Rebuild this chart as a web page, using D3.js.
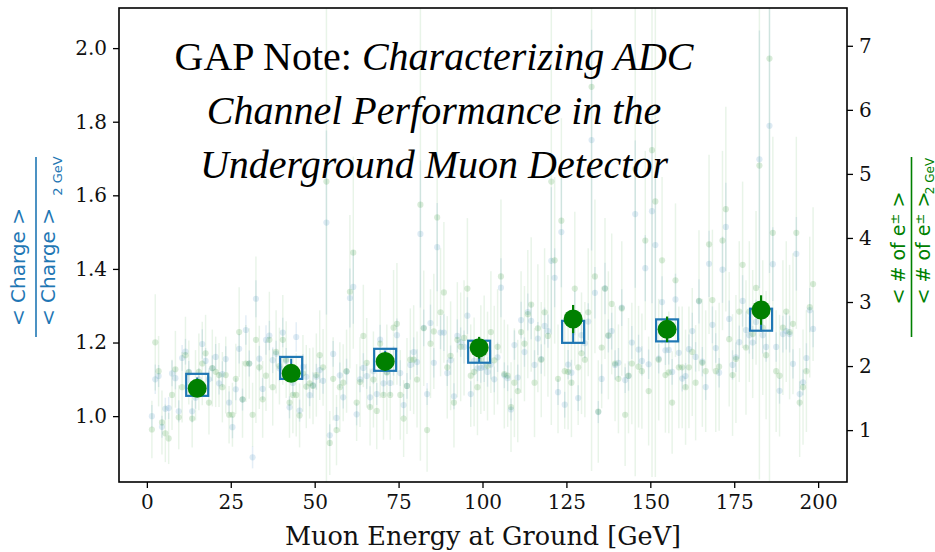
<!DOCTYPE html>
<html><head><meta charset="utf-8">
<script src="https://cdn.jsdelivr.net/npm/d3@7/dist/d3.min.js"></script>
<style>body{margin:0;background:#fff}svg{display:block}</style>
</head><body>
<svg id="chart" width="935" height="552"></svg>
<script>
// ---------------- data ----------------
const energies = [
1.5,2.5,3.5,4.5,5.5,6.5,7.5,8.5,9.5,10.5,
11.5,12.5,13.5,14.5,15.5,16.5,17.5,18.5,19.5,20.5,
21.5,22.5,23.5,24.5,25.5,26.5,27.5,28.5,29.5,30.5,
31.5,32.5,33.5,34.5,35.5,36.5,37.5,38.5,39.5,40.5,
41.5,42.5,43.5,44.5,45.5,46.5,47.5,48.5,49.5,50.5,
51.5,52.5,53.5,54.5,55.5,56.5,57.5,58.5,59.5,60.5,
61.5,62.5,63.5,64.5,65.5,66.5,67.5,68.5,69.5,70.5,
71.5,72.5,73.5,74.5,75.5,76.5,77.5,78.5,79.5,80.5,
81.5,82.5,83.5,84.5,85.5,86.5,87.5,88.5,89.5,90.5,
91.5,92.5,93.5,94.5,95.5,96.5,97.5,98.5,99.5,100.5,
101.5,102.5,103.5,104.5,105.5,106.5,107.5,108.5,109.5,110.5,
111.5,112.5,113.5,114.5,115.5,116.5,117.5,118.5,119.5,120.5,
121.5,122.5,123.5,124.5,125.5,126.5,127.5,128.5,129.5,130.5,
131.5,132.5,133.5,134.5,135.5,136.5,137.5,138.5,139.5,140.5,
141.5,142.5,143.5,144.5,145.5,146.5,147.5,148.5,149.5,150.5,
151.5,152.5,153.5,154.5,155.5,156.5,157.5,158.5,159.5,160.5,
161.5,162.5,163.5,164.5,165.5,166.5,167.5,168.5,169.5,170.5,
171.5,172.5,173.5,174.5,175.5,176.5,177.5,178.5,179.5,180.5,
181.5,182.5,183.5,184.5,185.5,186.5,187.5,188.5,189.5,190.5,
191.5,192.5,193.5,194.5,195.5,196.5,197.5,198.5];

const chargeRatio = [
1.00,1.10,1.109,0.971,1.02,1.022,1.116,1.103,1.013,1.158,
1.175,1.12,1.013,1.05,1.10,1.196,1.15,1.10,1.13,1.161,
1.089,1.114,1.155,1.037,0.970,1.073,1.183,1.045,1.234,1.143,
0.888,1.319,1.156,1.074,1.207,1.219,1.152,1.17,1.13,1.227,
1.15,1.024,1.09,1.215,1.015,1.134,1.107,1.057,1.084,1.107,
1.125,1.096,1.526,0.948,1.169,0.995,1.111,1.051,1.121,1.321,
1.351,1.005,1.10,1.131,1.109,1.051,1.122,1.06,1.208,1.089,
1.12,1.09,1.15,1.22,1.117,1.03,1.082,1.139,1.174,1.147,
1.495,1.24,1.06,1.253,1.145,1.459,1.227,1.227,1.117,1.152,
1.054,1.218,1.201,1.188,1.273,1.06,1.15,1.13,1.131,1.133,
1.12,1.14,1.10,1.16,1.349,1.111,1.103,1.018,1.193,1.105,
1.261,1.174,1.283,1.259,1.139,1.211,1.155,1.245,1.231,1.422,
1.376,1.065,1.50,1.031,1.14,1.118,1.28,1.049,1.22,1.198,
1.257,1.75,1.335,1.011,1.101,1.347,1.218,1.231,1.139,1.145,
1.295,1.098,1.109,1.20,1.549,1.181,1.15,1.402,1.141,1.557,
1.465,1.156,1.31,1.179,1.18,1.12,1.317,1.172,1.102,1.109,
1.182,1.231,1.161,1.312,1.148,1.079,1.414,1.248,1.185,1.118,
1.398,1.514,1.264,1.139,1.16,1.201,1.313,1.234,1.22,1.2,
1.256,1.698,1.22,1.188,1.789,1.413,1.188,1.069,1.223,1.231,
1.223,1.142,1.441,1.06,1.092,1.158,1.288,1.237];

const chargeErr = [
0.03,0.04,0.03,0.03,0.03,0.03,0.035,0.03,0.03,0.035,
0.035,0.03,0.03,0.03,0.03,0.04,0.035,0.03,0.035,0.035,
0.03,0.035,0.035,0.03,0.03,0.03,0.04,0.03,0.04,0.035,
0.03,0.05,0.035,0.03,0.04,0.04,0.035,0.035,0.035,0.04,
0.035,0.03,0.035,0.04,0.03,0.035,0.035,0.03,0.035,0.035,
0.035,0.035,0.25,0.03,0.035,0.03,0.035,0.03,0.035,0.08,
0.1,0.03,0.035,0.04,0.035,0.03,0.035,0.03,0.04,0.035,
0.035,0.035,0.04,0.045,0.035,0.03,0.035,0.04,0.04,0.035,
0.2,0.05,0.03,0.05,0.04,0.12,0.045,0.05,0.035,0.04,
0.035,0.045,0.04,0.045,0.05,0.035,0.04,0.035,0.04,0.04,
0.04,0.04,0.035,0.04,0.08,0.035,0.035,0.03,0.04,0.035,
0.05,0.04,0.05,0.05,0.04,0.045,0.04,0.05,0.045,0.2,
0.08,0.035,0.15,0.035,0.04,0.035,0.06,0.035,0.045,0.04,
0.05,0.3,0.07,0.03,0.04,0.07,0.045,0.05,0.04,0.04,
0.05,0.035,0.04,0.045,0.2,0.04,0.04,0.09,0.04,0.25,
0.2,0.04,0.07,0.04,0.04,0.035,0.07,0.04,0.035,0.035,
0.04,0.05,0.04,0.06,0.04,0.035,0.09,0.05,0.04,0.04,
0.09,0.12,0.05,0.04,0.04,0.045,0.07,0.05,0.05,0.045,
0.06,0.35,0.05,0.04,0.4,0.1,0.04,0.035,0.05,0.05,
0.05,0.04,0.1,0.035,0.035,0.04,0.06,0.05];

const electronRatio = [
1.01,2.37,1.92,1.12,0.95,0.87,1.55,1.95,1.20,1.67,
2.17,1.90,1.18,1.70,1.91,2.04,2.20,1.43,1.97,1.91,
1.86,1.67,1.86,1.24,1.24,1.80,2.53,1.48,2.04,2.04,
1.24,2.41,1.98,1.48,1.85,2.41,1.67,2.22,2.00,2.41,
2.10,1.43,1.55,1.55,1.23,1.886,1.68,1.73,1.69,1.86,
2.17,1.98,4.88,0.80,1.80,1.00,1.67,1.74,1.92,3.16,
3.77,1.43,1.75,2.47,2.05,1.36,1.79,1.30,2.35,1.55,
1.90,1.55,2.60,2.66,1.55,1.18,1.69,2.10,2.10,1.79,
4.52,2.59,1.00,2.35,2.54,4.32,2.84,3.15,1.98,2.16,
1.43,2.41,2.30,2.44,3.21,1.85,1.91,1.67,2.10,2.20,
2.00,2.53,2.09,2.30,3.40,1.875,1.85,1.36,1.74,1.61,
2.53,2.35,2.81,2.96,1.74,2.59,2.10,2.84,2.47,4.88,
3.65,1.80,4.27,1.92,1.91,1.74,3.21,1.98,2.20,2.10,
2.84,6.36,3.40,1.29,2.29,3.21,2.48,2.97,2.04,1.80,
2.90,1.24,1.85,2.04,5.08,1.99,1.92,3.96,1.61,5.37,
4.57,2.10,3.65,1.86,1.90,1.43,3.34,1.98,1.98,1.67,
1.98,2.22,1.74,3.02,2.05,1.92,3.90,3.03,1.92,1.99,
3.96,4.45,2.42,1.86,2.11,2.85,3.58,2.29,2.85,2.50,
3.22,5.13,2.60,2.17,6.80,4.08,1.92,1.85,2.60,2.85,
2.53,2.66,4.08,1.43,1.67,1.92,2.92,3.28];

const electronErr = [
0.45,0.75,0.55,0.5,0.45,0.4,0.55,0.6,0.5,0.55,
0.6,0.5,0.45,0.55,0.6,0.65,0.6,0.5,0.6,0.55,
0.5,0.55,0.6,0.45,0.5,0.55,0.7,0.6,0.6,0.55,
0.5,1.3,0.65,0.6,0.55,0.75,0.6,0.65,0.6,0.7,
0.6,0.55,0.6,0.65,0.5,0.6,0.65,0.55,0.6,0.65,
0.7,0.6,5.5,0.5,0.65,0.55,0.7,0.6,0.65,1.2,
1.5,0.6,0.7,0.8,0.7,0.6,0.75,0.6,0.85,0.7,
0.75,0.7,0.9,0.95,0.7,0.6,0.75,0.8,0.85,0.75,
4.0,0.9,0.65,0.85,0.9,1.7,1.0,1.1,0.8,0.85,
0.7,0.9,0.85,0.9,1.1,0.8,0.85,0.75,0.85,0.9,
0.85,0.95,0.85,0.9,1.2,0.85,0.8,0.7,0.85,0.8,
0.95,0.9,1.0,1.05,0.85,1.0,0.9,1.0,0.95,3.8,
1.3,0.85,1.6,0.9,0.9,0.85,1.2,0.9,0.95,0.9,
1.0,6.0,1.2,0.8,0.95,1.1,1.0,1.1,0.9,0.85,
1.05,0.8,0.9,0.95,4.8,0.95,0.9,1.4,0.85,5.1,
4.3,0.95,1.3,0.9,0.95,0.8,1.2,0.95,0.95,0.9,
0.95,1.0,0.9,1.1,1.0,0.95,1.4,1.1,0.95,1.0,
1.4,1.6,1.05,0.95,1.0,1.1,1.3,1.05,1.1,1.0,
1.2,4.9,1.05,1.0,6.6,1.5,0.95,0.95,1.05,1.1,
1.05,1.1,1.5,0.85,0.9,0.95,1.1,1.2];

const binCenters = [15, 43, 71, 99, 127, 155, 183];
const binCharge = [1.085, 1.131, 1.153, 1.175, 1.229, 1.233, 1.262];
const binChargeErr = [0.02, 0.025, 0.025, 0.028, 0.03, 0.03, 0.032];
const binElectron = [1.652, 1.886, 2.073, 2.286, 2.734, 2.573, 2.875];
const binElectronErr = [0.1, 0.12, 0.14, 0.17, 0.22, 0.2, 0.23];

const xTicks = [0, 25, 50, 75, 100, 125, 150, 175, 200];
const leftTicks = [1.0, 1.2, 1.4, 1.6, 1.8, 2.0];
const rightTicks = [1, 2, 3, 4, 5, 6, 7];

const titleLines = [
  [{t: "GAP Note: ", it: false}, {t: "Characterizing ADC", it: true}],
  [{t: "Channel Performance in the", it: true}],
  [{t: "Underground Muon Detector", it: true}]
];
const xLabel = "Muon Energy at Ground [GeV]";

// ---------------- chart ----------------
const BLUE = "#1f77b4", GREEN = "#008000";
const svg = d3.select("#chart");
const L = 119, R = 847, T = 8, B = 482;

const x = d3.scaleLinear().domain([-8.3, 208.6]).range([L, R]);
const yL = d3.scaleLinear().domain([0.821, 2.109]).range([B, T]);
const yR = d3.scaleLinear().domain([0.19, 7.59]).range([B, T]);

svg.append("defs").append("clipPath").attr("id", "clip")
  .append("rect").attr("x", L).attr("y", T).attr("width", R - L).attr("height", B - T);

const plot = svg.append("g").attr("clip-path", "url(#clip)");

const pts = energies.map((e, i) => ({e, c: chargeRatio[i], ce: chargeErr[i], n: electronRatio[i], ne: electronErr[i]}));

// blue small errorbars + points (left axis)
plot.append("g").selectAll("line").data(pts).join("line")
  .attr("x1", d => x(d.e)).attr("x2", d => x(d.e))
  .attr("y1", d => yL(d.c - d.ce)).attr("y2", d => yL(d.c + d.ce))
  .attr("stroke", BLUE).attr("stroke-opacity", 0.12).attr("stroke-width", 1.5);
plot.append("g").selectAll("circle").data(pts).join("circle")
  .attr("cx", d => x(d.e)).attr("cy", d => yL(d.c)).attr("r", 3.1)
  .attr("fill", BLUE).attr("fill-opacity", 0.15);

// green small errorbars + points (right axis)
plot.append("g").selectAll("line").data(pts).join("line")
  .attr("x1", d => x(d.e)).attr("x2", d => x(d.e))
  .attr("y1", d => yR(d.n - d.ne)).attr("y2", d => yR(d.n + d.ne))
  .attr("stroke", GREEN).attr("stroke-opacity", 0.09).attr("stroke-width", 1.5);
plot.append("g").selectAll("circle").data(pts).join("circle")
  .attr("cx", d => x(d.e)).attr("cy", d => yR(d.n)).attr("r", 3.1)
  .attr("fill", GREEN).attr("fill-opacity", 0.15);

// binned markers
const bins = binCenters.map((e, i) => ({e, c: binCharge[i], ce: binChargeErr[i], n: binElectron[i], ne: binElectronErr[i]}));
const bg = svg.append("g");
bg.selectAll("line.be").data(bins).join("line").attr("class", "be")
  .attr("x1", d => x(d.e)).attr("x2", d => x(d.e))
  .attr("y1", d => yL(d.c - d.ce)).attr("y2", d => yL(d.c + d.ce))
  .attr("stroke", BLUE).attr("stroke-width", 2);
bg.selectAll("rect").data(bins).join("rect")
  .attr("x", d => x(d.e) - 11).attr("y", d => yL(d.c) - 11)
  .attr("width", 22).attr("height", 22)
  .attr("fill", "none").attr("stroke", BLUE).attr("stroke-width", 2.2);
bg.selectAll("line.ge").data(bins).join("line").attr("class", "ge")
  .attr("x1", d => x(d.e)).attr("x2", d => x(d.e))
  .attr("y1", d => yR(d.n - d.ne)).attr("y2", d => yR(d.n + d.ne))
  .attr("stroke", GREEN).attr("stroke-width", 2.2);
bg.selectAll("circle").data(bins).join("circle")
  .attr("cx", d => x(d.e)).attr("cy", d => yR(d.n)).attr("r", 9.5)
  .attr("fill", GREEN);

// frame
svg.append("rect").attr("x", L).attr("y", T).attr("width", R - L).attr("height", B - T)
  .attr("fill", "none").attr("stroke", "#000").attr("stroke-width", 1.6);

const tickFont = "'DejaVu Serif', serif";
function styleAxis(g) {
  g.select(".domain").remove();
  g.selectAll(".tick line").attr("stroke", "#000").attr("stroke-width", 1.3);
  g.selectAll(".tick text").attr("fill", "#111").style("font-family", tickFont).style("font-size", "20px");
}
svg.append("g").attr("transform", `translate(0,${B})`)
  .call(d3.axisBottom(x).tickValues(xTicks).tickFormat(d3.format("d")).tickSize(6).tickPadding(7))
  .call(styleAxis);
svg.append("g").attr("transform", `translate(${L},0)`)
  .call(d3.axisLeft(yL).tickValues(leftTicks).tickFormat(d3.format(".1f")).tickSize(6).tickPadding(6))
  .call(styleAxis);
svg.append("g").attr("transform", `translate(${R},0)`)
  .call(d3.axisRight(yR).tickValues(rightTicks).tickFormat(d3.format("d")).tickSize(6).tickPadding(6))
  .call(styleAxis);

// x label
svg.append("text").attr("x", 483).attr("y", 545).attr("text-anchor", "middle")
  .style("font-family", tickFont).style("font-size", "25.5px").attr("fill", "#111").text(xLabel);

// title
const title = svg.append("text").attr("text-anchor", "middle")
  .style("font-family", "'Liberation Serif', 'Times New Roman', serif").style("font-size", "40px").attr("fill", "#000");
const baselines = [70, 124, 178];
titleLines.forEach((line, i) => {
  line.forEach((seg, j) => {
    const ts = title.append("tspan").text(seg.t).style("font-style", seg.it ? "italic" : "normal");
    if (j === 0) ts.attr("x", 434).attr("y", baselines[i]);
  });
});

// y labels (fractions, rotated)
const sansFont = "'DejaVu Sans', sans-serif";
function rotText(sx, sy, size, color, parts) {
  const t = svg.append("text").attr("transform", `translate(${sx},${sy}) rotate(-90)`)
    .attr("text-anchor", "middle").style("font-family", sansFont).style("font-size", size + "px").attr("fill", color);
  parts.forEach(p => {
    const ts = t.append("tspan").text(p.t);
    if (p.dy) ts.attr("dy", p.dy);
    if (p.size) ts.style("font-size", p.size + "px");
  });
  return t;
}
rotText(25, 267, 20, BLUE, [{t: "< Charge >"}]);
svg.append("line").attr("x1", 36).attr("x2", 36).attr("y1", 157).attr("y2", 337).attr("stroke", BLUE).attr("stroke-width", 1.6);
rotText(55, 267, 20, BLUE, [{t: "< Charge >"}]);
rotText(62, 176, 13, BLUE, [{t: "2 GeV"}]);

rotText(905, 248, 19, GREEN, [{t: "< # of e"}, {t: "±", dy: -6, size: 13}, {t: " >", dy: 6}]);
svg.append("line").attr("x1", 911.5).attr("x2", 911.5).attr("y1", 157).attr("y2", 337).attr("stroke", GREEN).attr("stroke-width", 1.6);
rotText(930, 248, 19, GREEN, [{t: "< # of e"}, {t: "±", dy: -6, size: 13}, {t: " >", dy: 6}]);
rotText(933.5, 176, 12, GREEN, [{t: "2 GeV"}]);
</script>
</body></html>
